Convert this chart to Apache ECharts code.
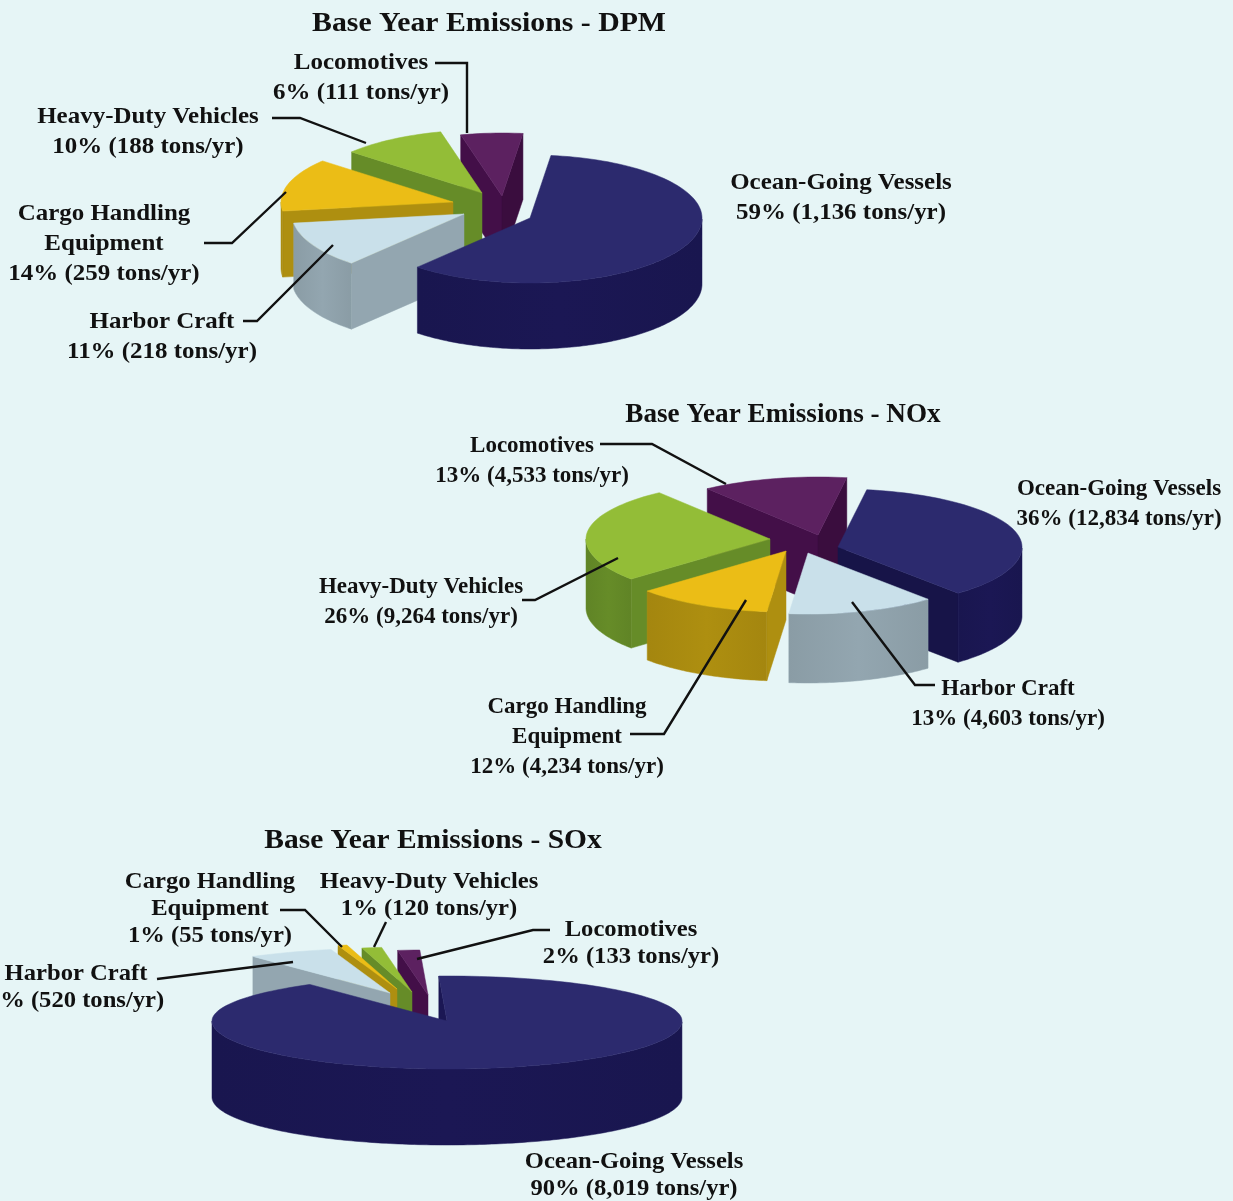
<!DOCTYPE html>
<html>
<head>
<meta charset="utf-8">
<style>html,body{margin:0;padding:0;background:#e6f5f6}#c{width:1233px;height:1201px}</style>
<script src="https://cdn.jsdelivr.net/npm/echarts@6/dist/echarts.min.js"></script>
</head>
<body>
<div id="c"></div>
<script>
// ---- data ----
const sources = ['Ocean-Going Vessels', 'Harbor Craft', 'Cargo Handling\nEquipment', 'Heavy-Duty Vehicles', 'Locomotives'];
const dpmTons = [1136, 218, 259, 188, 111];
const dpmPct = [59, 11, 14, 10, 6];
const noxTons = [12834, 4603, 4234, 9264, 4533];
const noxPct = [36, 13, 12, 26, 13];
const soxTons = [8019, 520, 55, 120, 133];
const soxPct = [90, 6, 1, 1, 2];
const titles = ['Base Year Emissions - DPM', 'Base Year Emissions - NOx', 'Base Year Emissions - SOx'];

// ---- styling ----
const topColors = ['#2c2a6e', '#c9e0ea', '#ebbd16', '#93bd37', '#5c2160'];
const wallColors = ['#1b1754', '#93a6b0', '#ae8f10', '#668c28', '#430f48'];

// ---- layout of the three pies ----
const pies = [
  { tons: dpmTons, pct: dpmPct, title: titles[0], titleX: 489, titleY: 24, lh: 30, labelScale: 1.085, titleScale: 1.063,
    cx: 500, cy: 209, rx: 172, ryBack: 63, ryFront: 65, depth: 66, start: 7,
    order: [4, 3, 2, 1, 0],
    shift: [[30, 9], [-36, 5], [-47, -7], [-18, -16], [2, -13]],
    labels: [[841, 198], [162, 337], [104, 244], [148, 132], [361, 78]],
    leaders: [
      [[435, 63], [467, 63], [467, 133]],
      [[272, 118], [300, 118], [366, 143]],
      [[204, 243], [232, 243], [286, 192]],
      [[243, 321], [257, 321], [333, 245]]
    ] },
  { tons: noxTons, pct: noxPct, title: titles[1], titleX: 783, titleY: 415, lh: 30, labelScale: 1.0, titleScale: 0.97,
    cx: 805, cy: 544, rx: 184, ryBack: 58, ryFront: 61, depth: 69, start: 9,
    order: [4, 0, 3, 2, 1],
    shift: [[33, 3], [3, 9], [-19, 7], [-35, -5], [13, -9]],
    labels: [[1119, 504], [1008, 704], [567, 737], [421, 602], [532, 461]],
    leaders: [
      [[600, 444], [652, 444], [726, 484]],
      [[522, 600], [535, 600], [618, 558]],
      [[630, 734], [664, 734], [746, 600]],
      [[852, 602], [915, 685], [935, 685]]
    ] },
  { tons: soxTons, pct: soxPct, title: titles[2], titleX: 433, titleY: 841, lh: 27, labelScale: 1.07, titleScale: 1.053,
    cx: 448, cy: 1021, rx: 235, ryBack: 45, ryFront: 48, depth: 76, start: 358,
    order: [4, 3, 2, 1, 0],
    shift: [[-1, 0], [-58, -28], [-51, -32], [-36, -29], [-20, -26]],
    labels: [[634, 1176], [76, 988], [210, 909], [429, 896], [631, 944]],
    leaders: [
      [[280, 910], [305, 910], [342, 947]],
      [[386, 922], [374, 947]],
      [[550, 930], [533, 930], [417, 959]],
      [[157, 979], [293, 962]]
    ] }
];

const SERIF = '"Liberation Serif","Times New Roman",serif';
const LABEL_FONT = 'bold 23px ' + SERIF;

function shade(hex, f) {
  const n = parseInt(hex.slice(1), 16);
  const c = [n >> 16, (n >> 8) & 255, n & 255].map(v => Math.max(0, Math.min(255, Math.round(v * f))));
  return 'rgb(' + c.join(',') + ')';
}

function sliceAngles(tons, start) {
  const total = tons.reduce((a, b) => a + b, 0);
  let acc = start;
  return tons.map(v => {
    const a0 = acc;
    acc += v / total * 360;
    return [a0, acc];
  });
}

function makeRender(pie) {
  const angles = sliceAngles(pie.tons, pie.start);
  return function (params, api) {
    const i = params.dataIndex;
    const share = api.value(0) / pie.tons.reduce((a, b) => a + b, 0);
    const a0 = angles[i][0];
    const a1 = a0 + share * 360;
    const ax = pie.cx + pie.shift[i][0];
    const ay = pie.cy + pie.shift[i][1];
    const d = pie.depth;
    const rad = t => t * Math.PI / 180;
    const rim = t => {
      const c = Math.cos(rad(t));
      return [ax + pie.rx * Math.sin(rad(t)), ay - (c > 0 ? pie.ryBack : pie.ryFront) * c];
    };
    const z = pie.order.indexOf(i) * 10 + 1;
    const kids = [];
    const poly = (pts, fill, zz) => kids.push({
      type: 'polygon', z2: z + zz, shape: { points: pts },
      style: { fill: fill, stroke: typeof fill === 'string' ? fill : wallColors[i], lineWidth: 0.5 }, silent: true
    });
    if (Math.sin(rad(a0)) < 0) {
      const p = rim(a0);
      poly([[ax, ay], p, [p[0], p[1] + d], [ax, ay + d]], wallColors[i], 0);
    }
    if (Math.sin(rad(a1)) > 0) {
      const p = rim(a1);
      poly([[ax, ay], p, [p[0], p[1] + d], [ax, ay + d]], shade(wallColors[i], 0.86), 0);
    }
    // outer wall: one shape for the part of the rim that faces the viewer
    const front = [];
    for (let t = a0; t <= a1; t += 1) {
      if (Math.cos(rad(t)) < 0) front.push(t);
    }
    if (Math.cos(rad(a1)) < 0) front.push(a1);
    if (front.length > 1) {
      const tops = front.map(rim);
      const bottoms = tops.map(p => [p[0], p[1] + d]).reverse();
      poly(tops.concat(bottoms), {
        type: 'linear', x: 0, y: 0, x2: 1, y2: 0,
        colorStops: [
          { offset: 0, color: shade(wallColors[i], 0.94) },
          { offset: 0.5, color: shade(wallColors[i], 1.0) },
          { offset: 1, color: shade(wallColors[i], 0.94) }
        ]
      }, 1);
    }
    // top face
    const pts = [[ax, ay]];
    for (let t = a0; t < a1; t += 2) pts.push(rim(t));
    pts.push(rim(a1));
    poly(pts, topColors[i], 2);
    return { type: 'group', children: kids };
  };
}

function labelText(name, pct, tons) {
  return name + '\n' + pct + '% (' + tons.toLocaleString('en-US') + ' tons/yr)';
}

const graphics = [];
pies.forEach(pie => {
  pie.labels.forEach((l, i) => {
    graphics.push({
      type: 'text', x: l[0], y: l[1], scaleX: pie.labelScale, silent: true, z: 20,
      style: {
        text: labelText(sources[i], pie.pct[i], pie.tons[i]),
        font: LABEL_FONT, fill: '#111', align: 'center', verticalAlign: 'middle',
        lineHeight: pie.lh
      }
    });
  });
  pie.leaders.forEach(pts => {
    graphics.push({
      type: 'polyline', silent: true, z: 20, shape: { points: pts },
      style: { stroke: '#111', lineWidth: 2.4, fill: null }
    });
  });
  graphics.push({
    type: 'text', x: pie.titleX, y: pie.titleY, scaleX: pie.titleScale, silent: true, z: 20,
    style: { text: pie.title, font: 'bold 28px ' + SERIF, fill: '#111', align: 'center', verticalAlign: 'middle' }
  });
});

const chart = echarts.init(document.getElementById('c'), null, { renderer: 'canvas', width: 1233, height: 1201 });
chart.setOption({
  backgroundColor: '#e6f5f6',
  animation: false,
  tooltip: { show: false },
  graphic: graphics,
  series: pies.map(pie => ({
    type: 'custom',
    coordinateSystem: 'none',
    name: pie.title,
    silent: true,
    clip: false,
    renderItem: makeRender(pie),
    data: pie.tons.map(v => [v])
  }))
});
</script>
</body>
</html>
